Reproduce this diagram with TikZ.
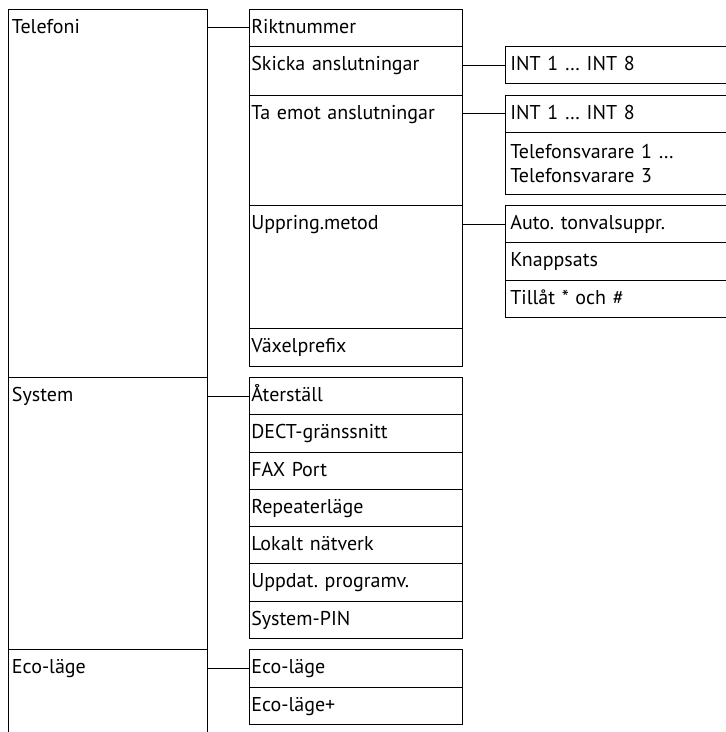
\documentclass[tikz,border=0pt]{standalone}
\usepackage{fontspec}
\setmainfont{PT Sans}
\frenchspacing
\usetikzlibrary{positioning}
\tikzset{
  cell/.style    ={draw, line width=1pt, outer sep=0pt, inner ysep=0pt, align=left,
                   font=\fontsize{20}{24}\selectfont, text height=24pt, text depth=13.3pt},
  lvlone/.style  ={cell, text width=191.7pt, inner xsep=4pt},
  lvltwo/.style  ={cell, text width=208.7pt, inner xsep=2pt},
  lvlthree/.style={cell, text width=214pt, inner xsep=5pt},
  link/.style    ={line width=1pt},
}

\begin{document}
\begin{tikzpicture}
  \useasboundingbox (0pt,0pt) rectangle (726pt,-732pt);

  % main menu
  \node[lvlone, anchor=north west, text depth=344.1pt](telefoni) at (8pt,-9.3pt){Telefoni};
  \node[lvlone, below=0pt of telefoni, text depth=248.5pt](system){System};
  \node[lvlone, below=0pt of system, text depth=76pt](eco){Eco-läge};

  % Telefoni
  \node[lvltwo, below right=0pt and 41.6pt of telefoni.north east](rikt){Riktnummer};
  \node[lvltwo, below=0pt of rikt, text depth=24.7pt](skicka){Skicka anslutningar};
  \node[lvltwo, below=0pt of skicka, text depth=86.1pt](taemot){Ta emot anslutningar};
  \node[lvltwo, below=0pt of taemot, text depth=99.3pt](uppring){Uppring.metod};
  \node[lvltwo, below=0pt of uppring](vaxel){Växelprefix};

  \node[lvlthree, below right=0pt and 43.3pt of skicka.north east](skint){INT 1 … INT 8};
  \node[lvlthree, below right=0pt and 43.3pt of taemot.north east](tmint){INT 1 … INT 8};
  \node[lvlthree, below=0pt of tmint, text height=26pt, text depth=35.4pt](tmsvar)
        {Telefonsvarare 1 …\\Telefonsvarare 3};
  \node[lvlthree, below right=0pt and 43.3pt of uppring.north east](auto){Auto. tonvalsuppr.};
  \node[lvlthree, below=0pt of auto](knapp){Knappsats};
  \node[lvlthree, below=0pt of knapp](tillat){Tillåt * och \#};

  % System
  \node[lvltwo, below right=0pt and 41.6pt of system.north east](aterst){Återställ};
  \node[lvltwo, below=0pt of aterst](dect){DECT-gränssnitt};
  \node[lvltwo, below=0pt of dect](fax){FAX Port};
  \node[lvltwo, below=0pt of fax](repeat){Repeaterläge};
  \node[lvltwo, below=0pt of repeat](lokalt){Lokalt nätverk};
  \node[lvltwo, below=0pt of lokalt](uppdat){Uppdat. programv.};
  \node[lvltwo, below=0pt of uppdat](pin){System-PIN};

  % Eco-läge
  \node[lvltwo, below right=0pt and 41.6pt of eco.north east](ecomode){Eco-läge};
  \node[lvltwo, below=0pt of ecomode](ecoplus){Eco-läge+};

  \draw[link](telefoni.east |- rikt.west) -- (rikt.west);
  \draw[link](system.east |- aterst.west) -- (aterst.west);
  \draw[link](eco.east |- ecomode.west) -- (ecomode.west);
  \draw[link](skicka.east |- skint.west) -- (skint.west);
  \draw[link](taemot.east |- tmint.west) -- (tmint.west);
  \draw[link](uppring.east |- auto.west) -- (auto.west);
\end{tikzpicture}
\end{document}
